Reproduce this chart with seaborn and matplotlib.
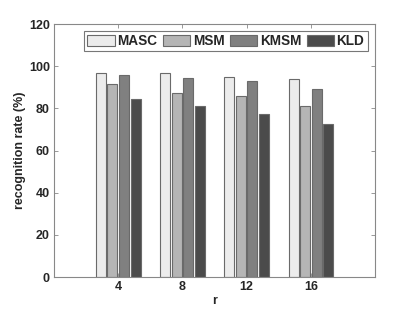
import matplotlib
matplotlib.use("Agg")
import matplotlib.pyplot as plt
import pandas as pd
import seaborn as sns

r_values = ["4", "8", "12", "16"]
methods = ["MASC", "MSM", "KMSM", "KLD"]
masc = [96.6, 96.6, 94.9, 94.1]
msm = [91.5, 87.4, 85.7, 81.3]
kmsm = [96.0, 94.4, 92.8, 89.3]
kld = [84.6, 81.3, 77.5, 72.6]

palette = {"MASC": "#ececec", "MSM": "#b5b5b5", "KMSM": "#808080", "KLD": "#4b4b4b"}

rows = []
for method, values in zip(methods, [masc, msm, kmsm, kld]):
    for r, v in zip(r_values, values):
        rows.append({"r": r, "method": method, "rate": v})
data = pd.DataFrame(rows)

sns.set_theme(style="white")
plt.rcParams["font.family"] = ["Liberation Sans", "DejaVu Sans"]
plt.rcParams["font.weight"] = "bold"

fig = plt.figure(figsize=(4.15, 3.13), dpi=100)
ax = fig.add_axes([0.130, 0.115, 0.774, 0.808])
sns.barplot(
    data=data, x="r", y="rate", hue="method", order=r_values, hue_order=methods,
    palette=palette, width=0.72, gap=0.13, edgecolor="#6a6a6a", linewidth=0.8,
    saturation=1, ax=ax,
)
ax.set_xlim(-1, 4)
ax.set_ylim(0, 120)
ax.set_yticks([0, 20, 40, 60, 80, 100, 120])
ax.set_xlabel("r", fontsize=9, fontweight="bold", labelpad=1)
ax.set_ylabel("recognition rate (%)", fontsize=9, fontweight="bold", labelpad=2)
ax.tick_params(axis="both", direction="in", length=3, width=0.6, color="#888888",
               labelsize=9, top=True, right=True, bottom=True, left=True, pad=3)
for label in ax.get_xticklabels() + ax.get_yticklabels():
    label.set_fontweight("bold")
for spine in ax.spines.values():
    spine.set_color("#888888")
    spine.set_linewidth(0.8)

handles, labels = ax.get_legend_handles_labels()
ax.legend_.remove()
leg = ax.legend(handles, labels, loc="upper right", bbox_to_anchor=(0.985, 0.985), ncol=4,
                frameon=True, fancybox=False, edgecolor="#555555", fontsize=9.8,
                handlelength=2.0, handleheight=0.9, handletextpad=0.2, columnspacing=0.4,
                borderpad=0.25, borderaxespad=0.2)
leg.get_frame().set_linewidth(0.8)
for text in leg.get_texts():
    text.set_fontweight("bold")

fig.savefig("out.png", dpi=100)
